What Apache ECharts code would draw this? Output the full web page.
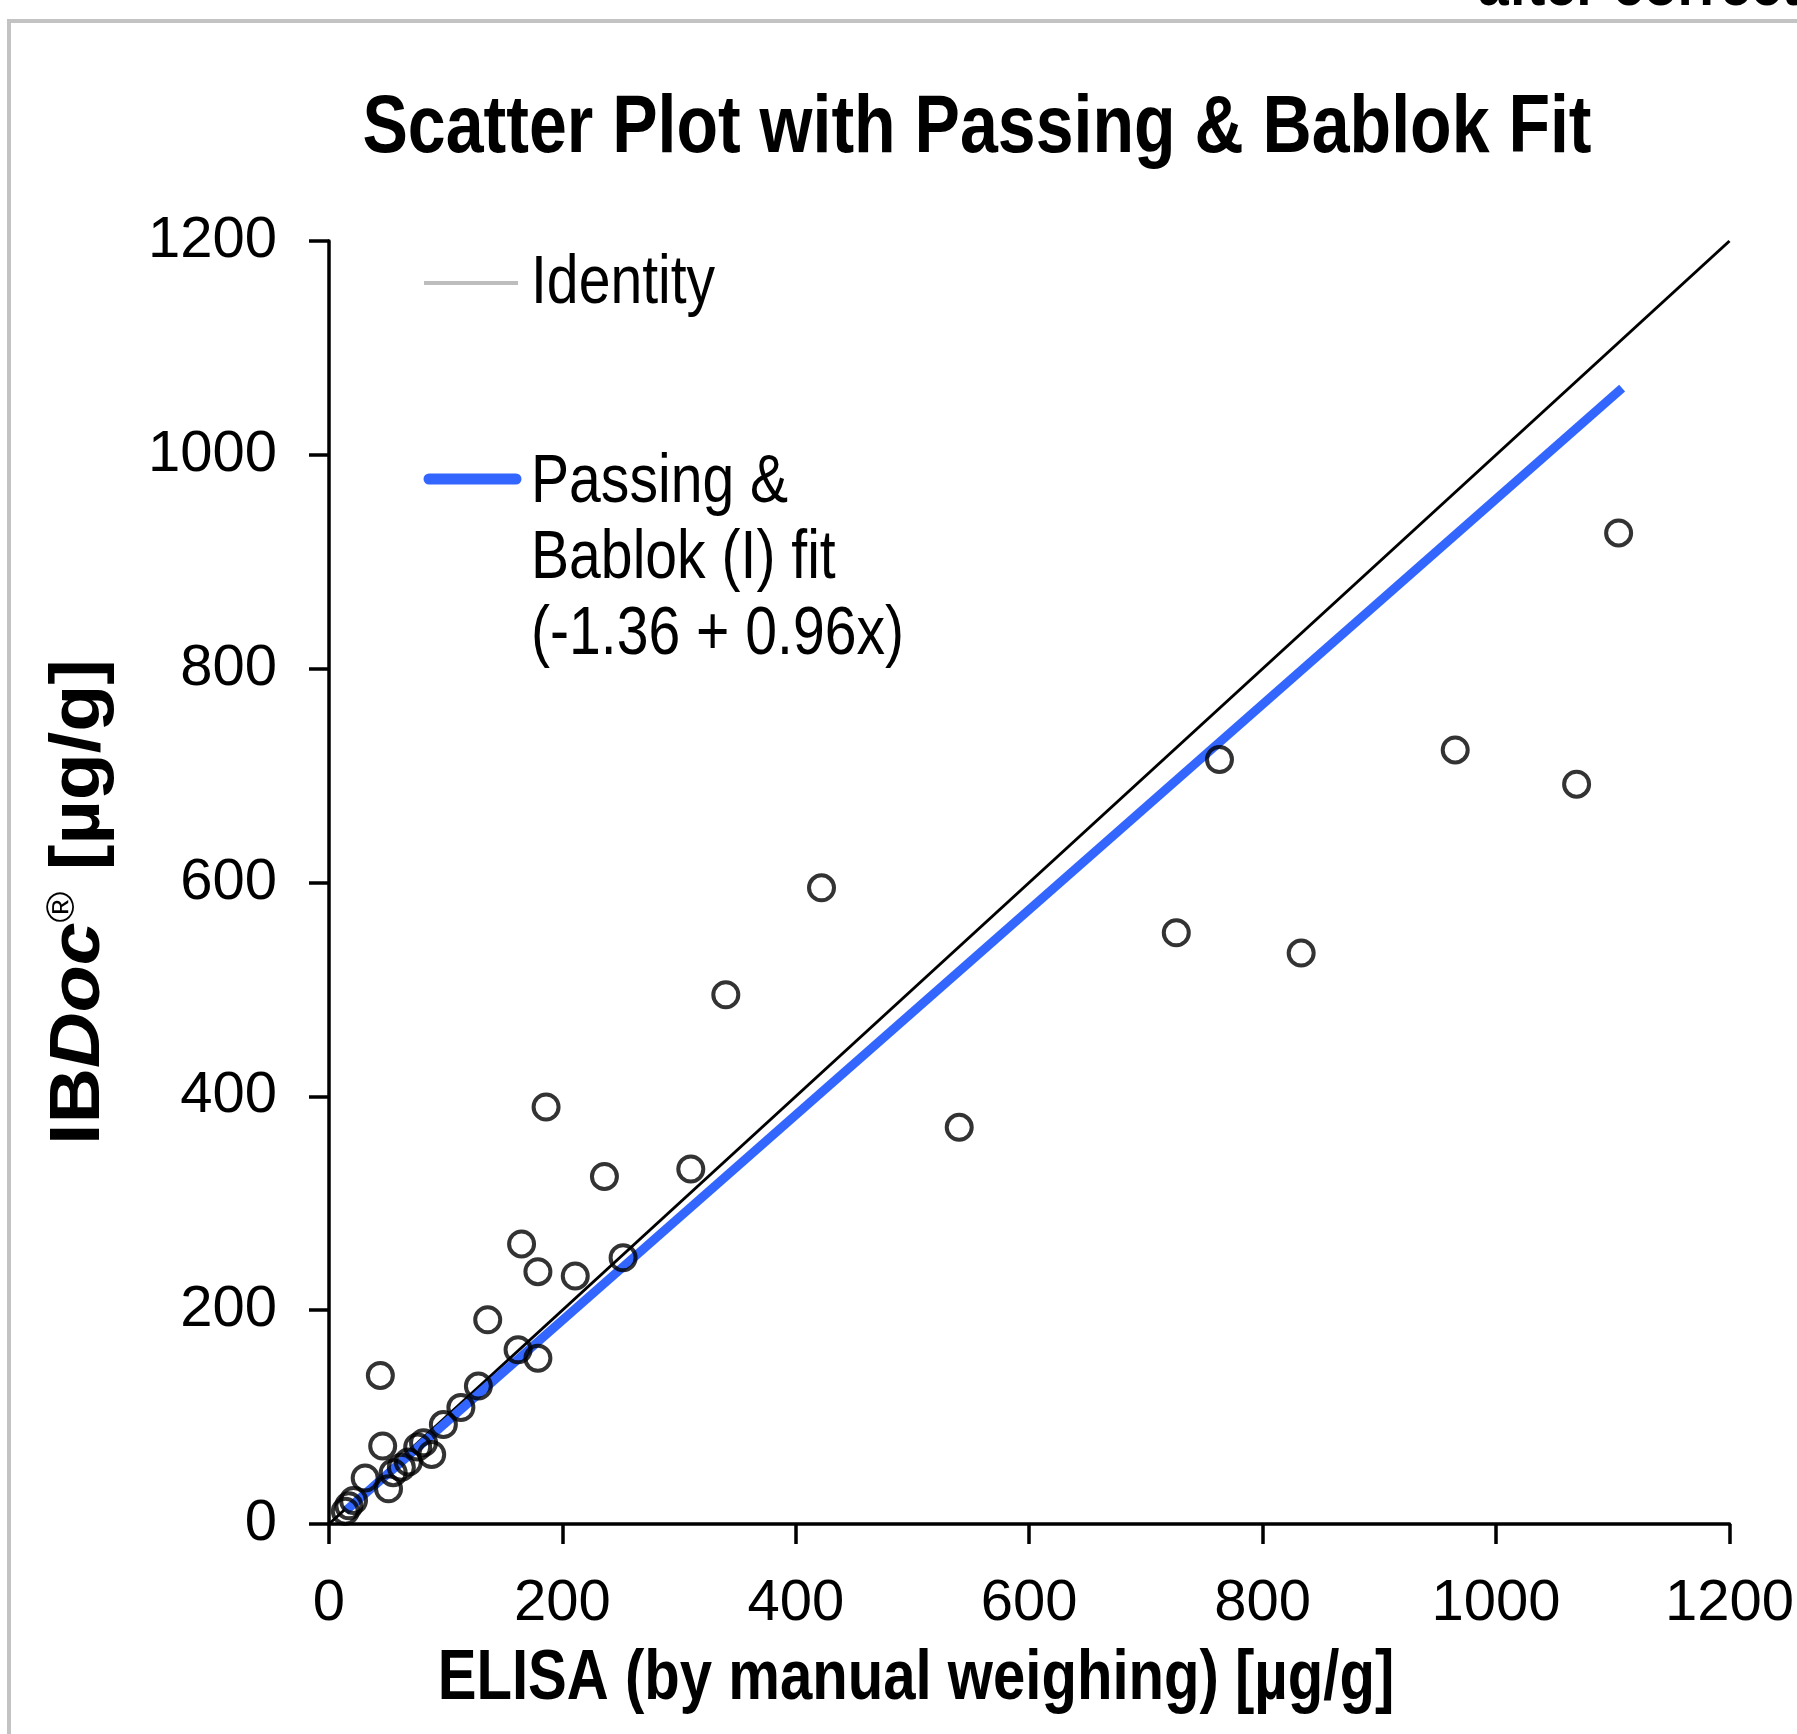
<!DOCTYPE html>
<html>
<head>
<meta charset="utf-8">
<title>Scatter Plot with Passing & Bablok Fit</title>
<script src="https://cdn.jsdelivr.net/npm/echarts@6/dist/echarts.min.js"></script>
<style>
  html, body { margin: 0; padding: 0; background: #fff; }
  #chart { width: 1797px; height: 1734px; }
</style>
</head>
<body>
<div id="chart"></div>
<script>
// ELISA (x) vs IBDoc (y), µg/g
const elisa = [14, 17, 21, 31, 46, 44, 51, 55, 62, 68, 76, 81, 88, 98, 113, 128,
  136, 162, 179, 165, 179, 186, 211, 236, 252, 310, 340, 422, 540, 726, 763, 833, 965, 1069, 1105]
const ibdoc = [12, 17, 22, 43, 73, 139, 33, 48, 53, 58, 72, 76, 65, 93, 109, 129,
  191, 163, 155, 262, 236, 390, 232, 325, 249, 332, 495, 595, 371, 553, 715, 534, 724, 692, 927]

// identity line ends and Passing & Bablok fit (-1.36 + 0.96x)
const identityEnds = [0, 1200]
const fitIntercept = -1.36
const fitSlope = 0.96
const fitEnds = [14, 1108]

const axisTicks = ['0', '200', '400', '600', '800', '1000', '1200']

const FONT = '"Liberation Sans", Arial, sans-serif'
const NARROW = 0.84 // reference text is set in a condensed face

const chart = echarts.init(document.getElementById('chart'))

const points = elisa.map((x, i) => [x, ibdoc[i]])
const identity = identityEnds.map(v => [v, v])
const fit = fitEnds.map(x => [x, fitIntercept + fitSlope * x])

const axisCommon = {
  type: 'value',
  min: 0,
  max: 1200,
  interval: 200,
  axisLine: { show: true, lineStyle: { color: '#000', width: 3.5 } },
  axisTick: { show: true, length: 20, lineStyle: { color: '#000', width: 3.5 } },
  splitLine: { show: false },
  axisLabel: {
    color: '#000',
    fontFamily: FONT,
    fontSize: 58,
    formatter: v => axisTicks[Math.round(v / 200)]
  }
}

const option = {
  animation: false,
  backgroundColor: '#fff',
  grid: { left: 329, right: 67, top: 241, bottom: 210, containLabel: false },
  xAxis: Object.assign({}, axisCommon, {
    axisLabel: Object.assign({}, axisCommon.axisLabel, { margin: 51 })
  }),
  yAxis: Object.assign({}, axisCommon, {
    axisLabel: Object.assign({}, axisCommon.axisLabel, { margin: 52 })
  }),
  series: [
    {
      name: 'Identity',
      type: 'line',
      data: identity,
      symbol: 'none',
      lineStyle: { color: '#000', width: 3 },
      z: 2
    },
    {
      name: 'Passing & Bablok (I) fit',
      type: 'line',
      data: fit,
      symbol: 'none',
      lineStyle: { color: '#3366FF', width: 9 },
      z: 3
    },
    {
      name: 'IBDoc',
      type: 'scatter',
      data: points,
      symbol: 'circle',
      symbolSize: 25,
      itemStyle: { color: 'rgba(0,0,0,0)', borderColor: '#000', borderWidth: 4 },
      z: 4
    }
  ],
  graphic: [
    // frame around the figure
    {
      type: 'rect',
      shape: { x: 9, y: 21, width: 2000, height: 2000 },
      style: { fill: 'none', stroke: '#c3c3c3', lineWidth: 4 },
      silent: true
    },
    // cut-off heading above the frame
    {
      type: 'text',
      x: 1478,
      y: 18,
      scaleX: 0.92,
      style: {
        text: 'after correction',
        fontFamily: FONT,
        fontSize: 60,
        fontWeight: 'bold',
        fill: '#000',
        verticalAlign: 'bottom'
      }
    },
    // title
    {
      type: 'text',
      x: 977,
      y: 129,
      scaleX: 0.83,
      style: {
        text: 'Scatter Plot with Passing & Bablok Fit',
        fontFamily: FONT,
        fontWeight: 'bold',
        fontSize: 82,
        fill: '#000',
        align: 'center',
        verticalAlign: 'middle'
      }
    },
    // legend
    {
      type: 'line',
      shape: { x1: 424, y1: 283, x2: 518, y2: 283 },
      style: { stroke: '#bdbdbd', lineWidth: 4 }
    },
    {
      type: 'text',
      x: 531,
      y: 284,
      scaleX: NARROW,
      style: { text: 'Identity', fontFamily: FONT, fontSize: 68, fill: '#000', verticalAlign: 'middle' }
    },
    {
      type: 'line',
      shape: { x1: 429, y1: 479, x2: 516, y2: 479 },
      style: { stroke: '#3366FF', lineWidth: 11, lineCap: 'round' }
    },
    {
      type: 'text',
      x: 531,
      y: 445,
      scaleX: NARROW,
      style: {
        text: 'Passing &\nBablok (I) fit\n(-1.36 + 0.96x)',
        fontFamily: FONT,
        fontSize: 68,
        lineHeight: 76,
        fill: '#000',
        verticalAlign: 'top'
      }
    },
    // y axis title
    {
      type: 'text',
      x: 80,
      y: 902,
      rotation: Math.PI / 2,
      scaleX: 1.1,
      style: {
        text: '{b|IB}{bi|Doc}{sup|®}{b| [µg/g]}',
        align: 'center',
        verticalAlign: 'middle',
        rich: {
          b: { fontFamily: FONT, fontWeight: 'bold', fontSize: 70, fill: '#000' },
          bi: { fontFamily: FONT, fontWeight: 'bold', fontStyle: 'italic', fontSize: 70, fill: '#000' },
          sup: { fontFamily: FONT, fontSize: 38, fill: '#000', verticalAlign: 'top', padding: [0, 0, 30, 0] }
        }
      }
    },
    // x axis title
    {
      type: 'text',
      x: 916,
      y: 1680,
      scaleX: 0.83,
      style: {
        text: 'ELISA (by manual weighing) [µg/g]',
        fontFamily: FONT,
        fontWeight: 'bold',
        fontSize: 70,
        fill: '#000',
        align: 'center',
        verticalAlign: 'middle'
      }
    }
  ]
}

chart.setOption(option)
</script>
</body>
</html>
